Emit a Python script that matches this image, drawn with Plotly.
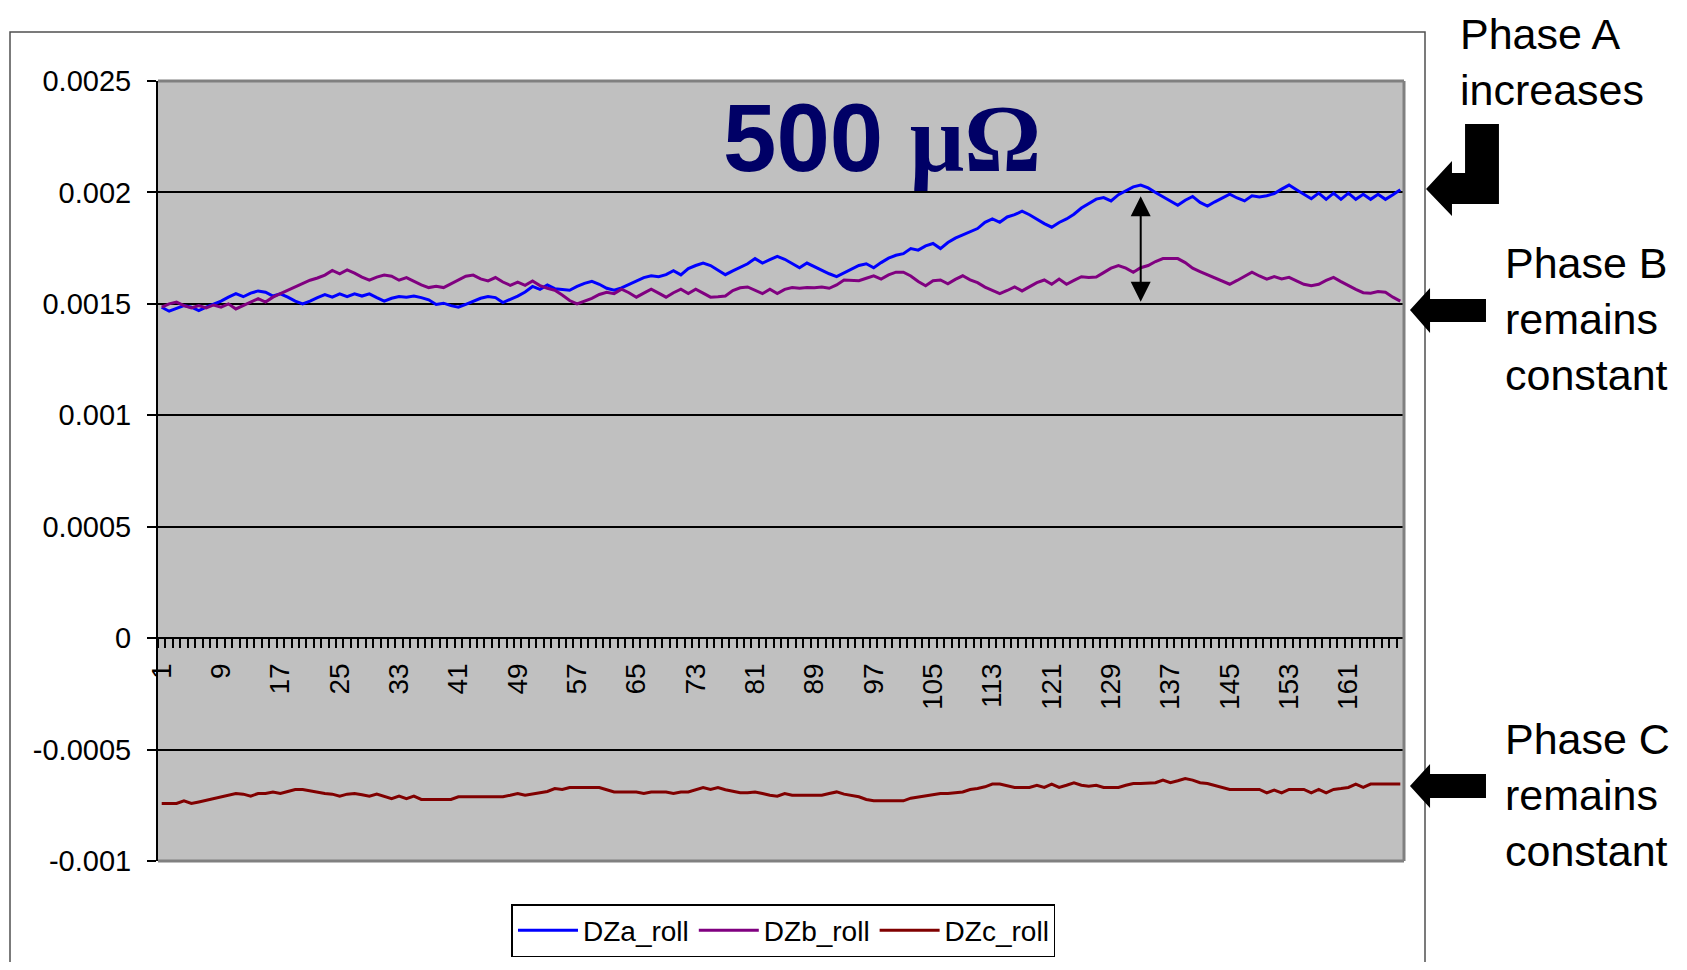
import plotly.graph_objects as go

# sample index on the category axis
samples = list(range(1, 169))
tick_labels = [str(i) for i in range(1, 162, 8)]
y_ticks = [0.0025, 0.002, 0.0015, 0.001, 0.0005, 0, -0.0005, -0.001]
y_tick_text = ["0.0025", "0.002", "0.0015", "0.001", "0.0005", "0", "-0.0005", "-0.001"]

# values, in micro-units (x1e-6)
dza_roll = [
    1485, 1467, 1480, 1492, 1485, 1470, 1485, 1498, 1512, 1530,
    1546, 1532, 1548, 1558, 1552, 1535, 1545, 1530, 1512, 1500,
    1512, 1528, 1542, 1530, 1545, 1532, 1545, 1535, 1545, 1528,
    1512, 1525, 1533, 1530, 1535, 1528, 1518, 1497, 1503, 1492,
    1485, 1498, 1510, 1525, 1533, 1528, 1506, 1520, 1535, 1553,
    1578, 1565, 1585, 1568, 1565, 1561, 1578, 1592, 1601, 1588,
    1570, 1561, 1572, 1588, 1602, 1618, 1626, 1622, 1631, 1649,
    1630, 1658, 1672, 1683, 1672, 1650, 1631, 1648, 1663, 1680,
    1703, 1683, 1698, 1713, 1700, 1680, 1662, 1683, 1666, 1650,
    1635, 1622, 1638, 1655, 1672, 1680, 1662, 1685, 1705, 1718,
    1725, 1748, 1741, 1760, 1771, 1748, 1775, 1795, 1809, 1822,
    1838, 1866, 1881, 1866, 1890, 1900, 1916, 1900, 1880, 1860,
    1844, 1865, 1881, 1902, 1930, 1950, 1970, 1977, 1962, 1990,
    2008, 2025, 2033, 2020, 2000, 1980, 1962, 1942, 1965, 1982,
    1955, 1939, 1958, 1975, 1992, 1975, 1962, 1985, 1980, 1985,
    1995, 2015, 2033, 2012, 1990, 1972, 1997, 1969, 1997, 1969,
    1997, 1969, 1992, 1969, 1992, 1969, 1990, 2012,
]
dzb_roll = [
    1485, 1500, 1508, 1492, 1482, 1492, 1482, 1495, 1485, 1500,
    1477, 1492, 1510, 1523, 1508, 1530, 1546, 1561, 1578, 1594,
    1606, 1616, 1629, 1650, 1635, 1652, 1638, 1620, 1606, 1620,
    1629, 1624, 1606, 1618, 1600, 1585, 1573, 1579, 1573, 1590,
    1610, 1624, 1629, 1612, 1603, 1618, 1598, 1583, 1598, 1583,
    1603, 1582, 1570, 1561, 1540, 1515, 1500, 1512, 1525, 1542,
    1552, 1546, 1566, 1550, 1530, 1548, 1566, 1548, 1530, 1550,
    1566, 1546, 1566, 1548, 1530, 1532, 1535, 1560, 1572, 1576,
    1560, 1546, 1566, 1546, 1565, 1573, 1570, 1573, 1572, 1576,
    1570, 1585, 1607, 1605, 1604, 1615, 1626, 1611, 1630, 1642,
    1642, 1625, 1600, 1581, 1604, 1607, 1590, 1610, 1626, 1608,
    1595, 1575, 1560, 1546, 1560, 1576, 1558, 1575, 1595, 1607,
    1588, 1611, 1588, 1605, 1622, 1618, 1620, 1640, 1660, 1672,
    1660, 1642, 1662, 1672, 1690, 1703, 1703, 1703, 1685, 1660,
    1645, 1630, 1616, 1602, 1588, 1605, 1625, 1642, 1625, 1611,
    1622, 1612, 1619, 1605, 1588, 1581, 1588, 1605, 1619, 1600,
    1581, 1565, 1550, 1548, 1555, 1552, 1530, 1512,
]
dzc_roll = [
    -742, -742, -742, -730, -742, -735, -727, -720, -712, -705,
    -697, -700, -709, -697, -697, -690, -697, -688, -679, -679,
    -685, -692, -697, -700, -709, -700, -697, -703, -709, -700,
    -709, -720, -709, -720, -709, -724, -724, -724, -724, -724,
    -712, -712, -712, -712, -712, -712, -712, -705, -697, -705,
    -700, -694, -688, -675, -679, -670, -670, -670, -670, -670,
    -680, -690, -690, -690, -690, -697, -690, -690, -690, -697,
    -690, -690, -679, -670, -679, -670, -680, -688, -694, -694,
    -690, -697, -705, -709, -697, -705, -705, -705, -705, -705,
    -697, -690, -700, -705, -712, -724, -730, -730, -730, -730,
    -730, -718, -712, -709, -700, -697, -697, -694, -690, -679,
    -675, -667, -655, -655, -662, -670, -670, -670, -660, -670,
    -655, -670, -660, -649, -660, -664, -660, -670, -670, -670,
    -660, -652, -652, -652, -649, -637, -649, -640, -630, -637,
    -649, -652, -660, -670, -679, -679, -679, -679, -679, -694,
    -682, -694, -679, -679, -679, -694, -679, -694, -679, -675,
    -670, -655, -670, -655, -655, -655, -655, -655,
]

series = [
    ("DZa_roll", dza_roll, "#0000FF"),
    ("DZb_roll", dzb_roll, "#800080"),
    ("DZc_roll", dzc_roll, "#800000"),
]

# the page body has an 8px margin, so the figure is drawn 8px in from the corner
OFF = 8
W, H = 1687 - 2 * OFF, 970 - 2 * OFF
L, R, T, B = 158, 1404, 81, 861  # plot area in screen pixels
FONT = "Arial, Liberation Sans, sans-serif"


def px(x):
    return (x - L) / (R - L)


def py(y):
    return (B - y) / (B - T)


def path(points):
    return "M " + " L ".join(f"{px(x):.4f},{py(y):.4f}" for x, y in points) + " Z"


fig = go.Figure()
for name, vals, color in series:
    fig.add_trace(go.Scatter(
        x=samples, y=[v * 1e-6 for v in vals], mode="lines", name=name,
        line=dict(color=color, width=3),
    ))

fig.update_layout(
    width=W, height=H,
    margin=dict(l=L - OFF, r=W - (R - OFF), t=T - OFF, b=H - (B - OFF), autoexpand=False),
    paper_bgcolor="white",
    plot_bgcolor="#C0C0C0",
    font=dict(family=FONT, color="black"),
    showlegend=True,
    legend=dict(
        orientation="h", x=0.502, xanchor="center",
        yref="container", y=(H - (904 - OFF)) / H, yanchor="top",
        font=dict(size=28), bgcolor="white", bordercolor="black", borderwidth=1.5,
        itemwidth=60,
    ),
    xaxis=dict(
        range=[0.5, 168.5], anchor="free", position=1 / 3.5, automargin=False,
        tickmode="array", tickvals=list(range(1, 162, 8)), ticktext=tick_labels,
        tickangle=-90, tickfont=dict(size=28),
        ticks="outside", ticklen=13, tickcolor="rgba(0,0,0,0)",
        minor=dict(tick0=0.5, dtick=1, ticks="outside", ticklen=9,
                   tickcolor="black", tickwidth=1.5, showgrid=False),
        showline=True, linecolor="black", linewidth=2,
        showgrid=False, zeroline=False,
    ),
    yaxis=dict(
        range=[-0.001, 0.0025], tickmode="array", tickvals=y_ticks, ticktext=y_tick_text,
        automargin=False,
        tickfont=dict(size=29), ticks="outside", ticklen=9, tickwidth=1.5, tickcolor="black",
        ticklabelstandoff=10,
        showline=True, linecolor="black", linewidth=2,
        showgrid=True, gridcolor="black", gridwidth=1.5, zeroline=False,
    ),
)

# plot area border (gray) and outer chart border
shapes = [
    dict(type="line", xref="paper", yref="paper", x0=0, x1=1, y0=1, y1=1,
         line=dict(color="#808080", width=3)),
    dict(type="line", xref="paper", yref="paper", x0=1, x1=1, y0=0, y1=1,
         line=dict(color="#808080", width=3)),
    dict(type="line", xref="paper", yref="paper", x0=0, x1=1, y0=0, y1=0,
         line=dict(color="#808080", width=3)),
    dict(type="rect", xref="paper", yref="paper", x0=px(10), x1=px(1425), y0=py(32), y1=py(990),
         line=dict(color="#505050", width=1.5), layer="below"),
]
# callout arrows on the right
arrow_a = [(1426, 189), (1452, 161), (1452, 173), (1465, 173), (1465, 124),
           (1499, 124), (1499, 204), (1452, 204), (1452, 216)]
arrow_b = [(1410, 310), (1430, 288), (1430, 299), (1486, 299), (1486, 322),
           (1430, 322), (1430, 333)]
arrow_c = [(1410, 786), (1430, 764), (1430, 774), (1486, 774), (1486, 798),
           (1430, 798), (1430, 808)]
for pts in (arrow_a, arrow_b, arrow_c):
    shapes.append(dict(type="path", xref="paper", yref="paper", path=path(pts),
                       fillcolor="black", line=dict(color="black", width=0)))
fig.update_layout(shapes=shapes)

# 500 uOhm label
fig.add_annotation(
    xref="paper", yref="paper", x=px(882), y=py(138), xanchor="center", yanchor="middle",
    text="<b>500 </b><span style='font-family:Liberation Serif, Times New Roman, serif'><b>μΩ</b></span>",
    showarrow=False, font=dict(size=96, color="#000066", family=FONT),
)
# double arrow between phases at sample 133
fig.add_annotation(
    x=133, y=0.00151, ax=133, ay=0.00199, xref="x", yref="y", axref="x", ayref="y",
    text="", showarrow=True, arrowside="end+start", arrowhead=2, startarrowhead=2,
    arrowsize=2, startarrowsize=2, arrowwidth=2, arrowcolor="black",
)
# side notes
notes = [
    ("Phase A<br>increases", 1458, 62),
    ("Phase B<br>remains<br>constant", 1503, 319),
    ("Phase C<br>remains<br>constant", 1503, 795),
]
for text, x, y in notes:
    fig.add_annotation(
        xref="paper", yref="paper", x=px(x), y=py(y), xanchor="left", yanchor="middle",
        align="left", text=text, showarrow=False, font=dict(size=43, color="black"),
    )

fig.write_html("out.html")
